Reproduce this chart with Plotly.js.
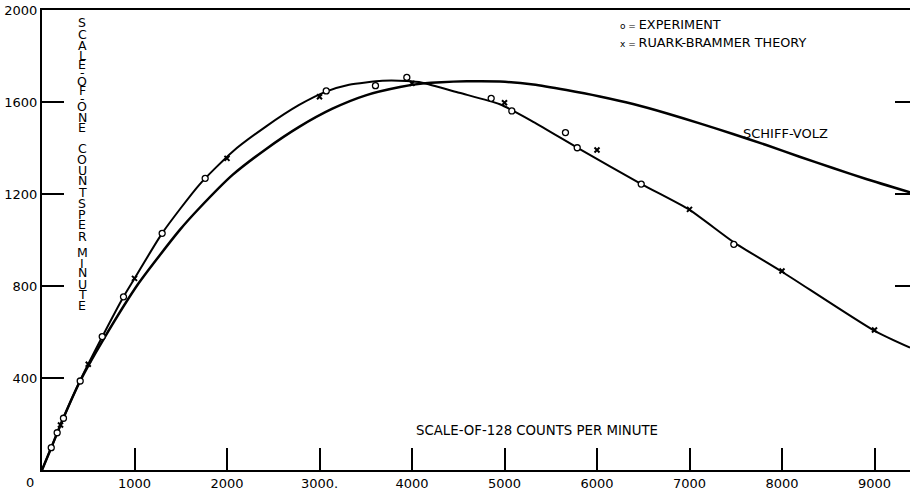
<!DOCTYPE html>
<html><head><meta charset="utf-8">
<script src="https://cdn.plot.ly/plotly-3.0.1.min.js"></script>
<style>html,body{margin:0;padding:0;background:#fff}</style>
</head><body>
<div id="chart" style="width:910px;height:491px"></div>
<script>
// ---- data ----
const expCurveX = [0, 100, 230, 410, 650, 880, 1000, 1300, 1700, 2060, 2420, 2780, 3070, 3320, 3680, 3940, 4110, 4510, 4950, 5310, 5790, 6480, 7000, 7480, 8000, 9000, 9384];
const expCurveY = [0, 97, 225, 387, 578, 752, 832, 1030, 1240, 1384, 1493, 1587, 1645, 1675, 1692, 1691, 1684, 1640, 1590, 1514, 1401, 1243, 1131, 990, 862, 605, 532];

const svCurveX = [0, 100, 230, 410, 660, 1050, 1490, 1700, 2060, 2420, 2780, 3140, 3500, 3870, 4110, 4590, 4950, 5310, 5670, 6030, 6390, 6750, 7110, 7470, 7830, 8190, 8550, 8910, 9384];
const svCurveY = [0, 97, 225, 385, 565, 815, 1044, 1138, 1283, 1395, 1492, 1571, 1629, 1665, 1680, 1690, 1689, 1676, 1652, 1624, 1591, 1551, 1507, 1461, 1413, 1362, 1313, 1265, 1207];

const expX = [100, 164, 232, 413, 651, 881, 1299, 1764, 3073, 3605, 3944, 4856, 5079, 5659, 5786, 6478, 7479];
const expY = [97, 162, 225, 387, 580, 753, 1029, 1268, 1648, 1671, 1707, 1616, 1561, 1467, 1401, 1243, 981];

const rbX = [200, 500, 1000, 2000, 3000, 4000, 5000, 6000, 7000, 8000, 9000];
const rbY = [196, 460, 833, 1355, 1623, 1681, 1597, 1391, 1133, 865, 609];

const xTickVals = [1000, 2000, 3000, 4000, 5000, 6000, 7000, 8000, 9000];
const xTickText = ["1000", "2000", "3000.", "4000", "5000", "6000", "7000", "8000", "9000"];
const yTickVals = [400, 800, 1200, 1600, 2000];
const yTickText = ["400", "800", "1200", "1600", "2000"];
const yRightTicks = [800, 1200, 1600];

const yTitle = "SCALE-OF-ONE COUNTS PER MINUTE";
const xTitle = "SCALE-OF-128 COUNTS PER MINUTE";
const legendExpSym = "o", legendExp = "EXPERIMENT";
const legendRBSym = "x", legendRB = "RUARK-BRAMMER THEORY";
const curveLabel = "SCHIFF-VOLZ";

// ---- layout helpers (pixel -> paper) ----
const L = 42, T = 10, W = 868, H = 460;
const px = x => (x - L) / W;
const py = y => (T + H - y) / H;
const FONT = "DejaVu Sans, Liberation Sans, sans-serif";
const blk = '#000';

// vertical centres (px) of the upright stacked letters of the y title (null = space)
const letterCenters = [23,34.5,45.5,55.5,65,72,81,91,98,106,117,128, null, 148,159,170,181,192,203, null, 214,225,236, null, 252,263,273,284,294,305];

const annotations = [];
yTitle.split('').forEach((ch, i) => {
  if (ch === ' ' || letterCenters[i] == null) return;
  annotations.push({text: ch, xref: 'paper', yref: 'paper', x: px(82), y: py(letterCenters[i]),
    xanchor: 'center', yanchor: 'middle', showarrow: false, font: {family: FONT, size: 12.5, color: blk}});
});
annotations.push(
  {text: "0", xref: 'paper', yref: 'paper', x: px(30), y: py(482), xanchor: 'center', yanchor: 'middle', showarrow: false, font: {family: FONT, size: 13, color: blk}},
  {text: xTitle, xref: 'paper', yref: 'paper', x: px(536.5), y: py(430), xanchor: 'center', yanchor: 'middle', showarrow: false, font: {family: FONT, size: 13.3, color: blk}},
  {text: curveLabel, xref: 'paper', yref: 'paper', x: px(785), y: py(133), xanchor: 'center', yanchor: 'middle', showarrow: false, font: {family: FONT, size: 13, color: blk}},
  {text: "<span style='font-size:9px'>" + legendExpSym + " = </span>" + legendExp, xref: 'paper', yref: 'paper', x: px(618), y: py(24), xanchor: 'left', yanchor: 'middle', showarrow: false, font: {family: FONT, size: 12.8, color: blk}},
  {text: "<span style='font-size:9px'>" + legendRBSym + " = </span>" + legendRB, xref: 'paper', yref: 'paper', x: px(618), y: py(42), xanchor: 'left', yanchor: 'middle', showarrow: false, font: {family: FONT, size: 12.8, color: blk}}
);

const traces = [
  {x: expCurveX, y: expCurveY, mode: 'lines', line: {color: blk, width: 2, shape: 'spline', smoothing: 0.6}, hoverinfo: 'skip'},
  {x: svCurveX, y: svCurveY, mode: 'lines', line: {color: blk, width: 2.5, shape: 'spline', smoothing: 0.6}, hoverinfo: 'skip'},
  {x: expX, y: expY, mode: 'markers', marker: {symbol: 'circle', size: 6, color: '#fff', line: {color: blk, width: 1.3}}, hoverinfo: 'skip'},
  {x: rbX, y: rbY, mode: 'markers', marker: {symbol: 'x-thin', size: 5, color: blk, line: {color: blk, width: 2}}, hoverinfo: 'skip'},
  {x: [], y: [], yaxis: 'y2', mode: 'markers', hoverinfo: 'skip'}
];

const layout = {
  width: 910, height: 491,
  margin: {l: L, r: 0, t: T, b: 491 - T - H},
  paper_bgcolor: '#fff', plot_bgcolor: '#fff',
  showlegend: false,
  font: {family: FONT, color: blk},
  xaxis: {range: [0, W / 0.0925], tickvals: xTickVals, ticktext: xTickText, ticks: 'inside', ticklen: 22, tickwidth: 2, tickcolor: blk,
    showline: true, linewidth: 2, linecolor: blk, mirror: true, showgrid: false, zeroline: false,
    tickfont: {family: FONT, size: 13, color: blk}},
  yaxis: {range: [0, 2000], tickvals: yTickVals, ticktext: yTickText, ticks: 'inside', ticklen: 22, tickwidth: 2, tickcolor: blk,
    showline: true, linewidth: 2, linecolor: blk, showgrid: false, zeroline: false,
    tickfont: {family: FONT, size: 13, color: blk}},
  yaxis2: {range: [0, 2000], overlaying: 'y', side: 'right', anchor: 'x', tickvals: yRightTicks, ticks: 'inside', ticklen: 15, tickwidth: 2,
    tickcolor: blk, showticklabels: false, showline: false, showgrid: false, zeroline: false},
  annotations: annotations
};

Plotly.newPlot('chart', traces, layout, {staticPlot: true, displayModeBar: false});
</script>
</body></html>
